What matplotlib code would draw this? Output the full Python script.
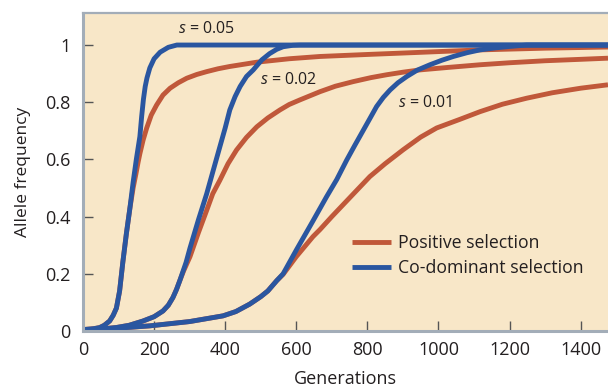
import matplotlib
matplotlib.use('Agg')
import matplotlib.pyplot as plt

plt.rcParams['font.family'] = ['Open Sans', 'DejaVu Sans']
plt.rcParams['mathtext.fontset'] = 'custom'
plt.rcParams['mathtext.rm'] = 'Open Sans'
plt.rcParams['mathtext.it'] = 'Open Sans:italic'

# s = 0.05
blue_05_x = [0, 30, 47, 60, 75, 85, 94, 103, 112, 122, 132, 141, 150, 160, 165, 170, 175, 180,
             188, 200, 217, 240, 264, 1477]
blue_05_y = [0.005, 0.008, 0.012, 0.02, 0.035, 0.055, 0.08, 0.14, 0.24, 0.34, 0.43, 0.52, 0.6,
             0.68, 0.75, 0.81, 0.855, 0.885, 0.92, 0.952, 0.975, 0.992, 1.0, 1.0]
red_05_x = [0, 30, 47, 60, 75, 85, 94, 103, 112, 122, 132, 141, 149, 155, 160, 169, 179, 192, 207,
            225, 245, 268, 292, 320, 348, 380, 413, 489, 580, 667, 800, 960, 1117, 1300, 1477]
red_05_y = [0.005, 0.008, 0.012, 0.02, 0.035, 0.055, 0.08, 0.14, 0.24, 0.34, 0.43, 0.5, 0.55,
            0.59, 0.62, 0.667, 0.709, 0.755, 0.79, 0.825, 0.849, 0.868, 0.884, 0.897, 0.907,
            0.917, 0.925, 0.94, 0.952, 0.96, 0.967, 0.975, 0.983, 0.989, 0.993]

# s = 0.02
blue_02_x = [0, 50, 93, 130, 169, 200, 225, 240, 253, 263, 272, 290, 301, 325, 348, 366, 385,
             400, 413, 428, 442, 460, 479, 503, 525, 545, 563, 590, 610, 1477]
blue_02_y = [0.004, 0.007, 0.012, 0.02, 0.035, 0.05, 0.07, 0.09, 0.117, 0.145, 0.175, 0.24,
             0.29, 0.39, 0.48, 0.56, 0.644, 0.71, 0.773, 0.82, 0.855, 0.89, 0.913, 0.948, 0.97,
             0.985, 0.994, 0.999, 1.0, 1.0]
red_02_x = [0, 50, 93, 130, 169, 200, 225, 240, 253, 263, 272, 283, 301, 325, 348, 365, 385, 408,
            432, 460, 489, 520, 554, 580, 610, 667, 710, 760, 810, 854, 900, 948, 1030, 1117,
            1200, 1300, 1400, 1477]
red_02_y = [0.004, 0.007, 0.012, 0.02, 0.035, 0.05, 0.07, 0.09, 0.117, 0.145, 0.175, 0.21,
            0.26, 0.345, 0.422, 0.48, 0.527, 0.585, 0.633, 0.677, 0.714, 0.745, 0.773, 0.792,
            0.808, 0.837, 0.856, 0.872, 0.886, 0.896, 0.905, 0.913, 0.922, 0.931, 0.938, 0.945,
            0.95, 0.954]

# s = 0.01
blue_01_x = [0, 100, 188, 300, 394, 430, 469, 500, 520, 545, 563, 601, 647, 685, 714, 742, 765,
             789, 808, 826, 845, 864, 886, 911, 940, 976, 1010, 1042, 1080, 1117, 1160, 1200,
             1248, 1477]
blue_01_y = [0.004, 0.01, 0.018, 0.033, 0.053, 0.068, 0.094, 0.12, 0.14, 0.176, 0.2, 0.285,
             0.385, 0.469, 0.53, 0.598, 0.65, 0.703, 0.745, 0.785, 0.817, 0.843, 0.868, 0.89,
             0.912, 0.931, 0.947, 0.96, 0.973, 0.983, 0.99, 0.995, 1.0, 1.0]
red_01_x = [0, 100, 188, 300, 394, 430, 469, 500, 520, 545, 563, 600, 647, 667, 700, 742, 807,
            850, 901, 950, 995, 1060, 1117, 1180, 1248, 1320, 1400, 1477]
red_01_y = [0.004, 0.01, 0.018, 0.033, 0.053, 0.068, 0.094, 0.12, 0.14, 0.176, 0.198, 0.26,
            0.33, 0.355, 0.40, 0.455, 0.54, 0.585, 0.634, 0.678, 0.71, 0.74, 0.767, 0.793,
            0.814, 0.833, 0.849, 0.861]

x_ticks = [0, 200, 400, 600, 800, 1000, 1200, 1400]
y_ticks = [0, 0.2, 0.4, 0.6, 0.8, 1]
y_tick_labels = ['0', '0.2', '0.4', '0.6', '0.8', '1']

red = '#c0583a'
blue = '#2a56a0'
bg = '#f8e7c8'
spine_col = '#a3adb8'
text_col = '#231f20'

fig = plt.figure(figsize=(6.08, 3.89), dpi=100)
ax = fig.add_axes([83 / 608, 1 - 331 / 389, 1 - 83 / 608, (331 - 13) / 389])
ax.set_facecolor(bg)

style = dict(lw=3.5, solid_capstyle='butt', solid_joinstyle='round')
ax.plot(red_05_x, red_05_y, color=red, label='Positive selection', **style)
ax.plot(red_02_x, red_02_y, color=red, **style)
ax.plot(red_01_x, red_01_y, color=red, **style)
ax.plot(blue_05_x, blue_05_y, color=blue, label='Co-dominant selection', **style)
ax.plot(blue_02_x, blue_02_y, color=blue, **style)
ax.plot(blue_01_x, blue_01_y, color=blue, **style)

ax.set_xlim(0, 1477)
ax.set_ylim(0, 1.112)
ax.set_xticks(x_ticks)
ax.set_yticks(y_ticks)
ax.set_yticklabels(y_tick_labels)

for side in ['left', 'bottom', 'top']:
    ax.spines[side].set_color(spine_col)
ax.spines['left'].set_linewidth(2.2)
ax.spines['bottom'].set_linewidth(2.2)
ax.spines['top'].set_linewidth(1.6)
ax.spines['right'].set_visible(False)

ax.tick_params(direction='in', length=7.5, width=1, color='#555555',
               labelsize=13, labelcolor=text_col)
ax.tick_params(axis='x', pad=7)
ax.tick_params(axis='y', pad=9)
ax.set_xlabel('Generations', fontsize=13, color=text_col, labelpad=8)
ax.set_ylabel('Allele frequency', fontsize=12.5, color=text_col, labelpad=10)

ax.text(347, 1.057, '$s$ = 0.05', fontsize=11.5, color=text_col, ha='center', va='center')
ax.text(577, 0.878, '$s$ = 0.02', fontsize=11.5, color=text_col, ha='center', va='center')
ax.text(963, 0.797, '$s$ = 0.01', fontsize=11.5, color=text_col, ha='center', va='center')

ax.legend(loc='upper left', bbox_to_anchor=(0.512, 0.305), frameon=False, fontsize=12.7,
          handlelength=2.2, handletextpad=0.4, labelspacing=0.42, borderpad=0,
          borderaxespad=0, labelcolor=text_col)

fig.savefig('out.png', dpi=100, facecolor='white')
